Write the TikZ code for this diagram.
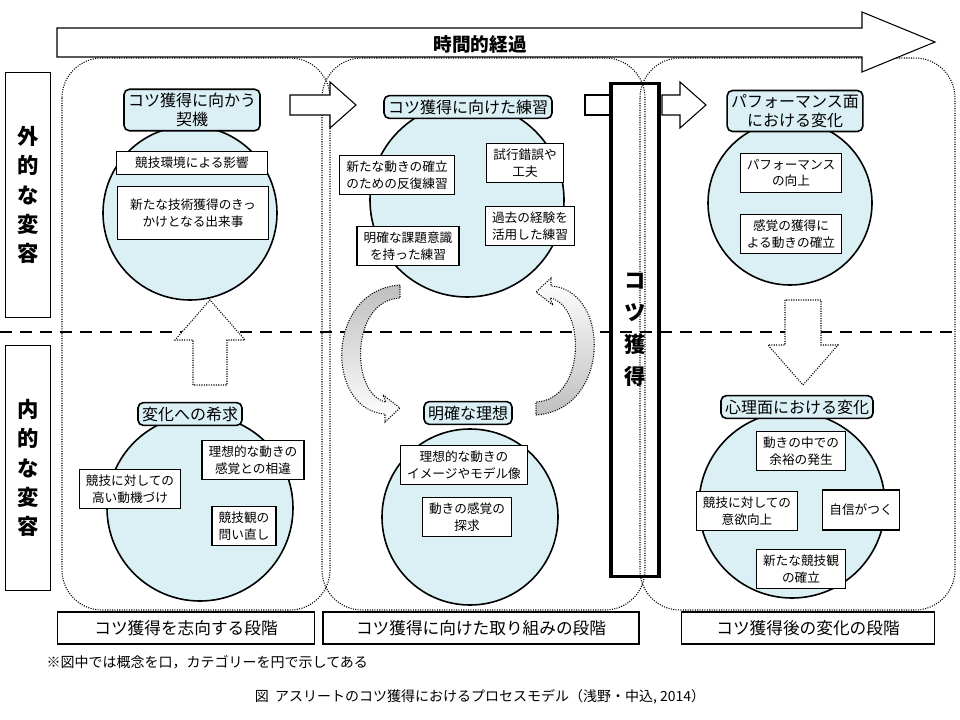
\documentclass[tikz,border=0pt]{standalone}
\usepackage{fontspec}
\setmainfont{Noto Sans CJK JP}
\usetikzlibrary{positioning}
\definecolor{catblue}{rgb}{0.86,0.94,0.96}
\definecolor{arrgray}{rgb}{0.75,0.75,0.75}
\tikzset{
  concept/.style={draw, thick, fill=white, align=center, font=\fontsize{9.5}{12.5}\selectfont, inner xsep=5pt, inner ysep=4pt},
  cat/.style={draw, very thick, fill=catblue, rounded corners=4pt, align=center, font=\fontsize{12}{14}\selectfont, inner sep=3pt},
  stage/.style={draw, thick, minimum height=24pt, font=\fontsize{12.5}{14}\selectfont},
  region/.style={densely dotted, thick, rounded corners=30pt},
  bigcirc/.style={draw, very thick, fill=catblue},
  hollow/.style={draw, densely dotted, thick, fill=white}
}
\begin{document}
\begin{tikzpicture}[x=0.75pt, y=-0.75pt]
\useasboundingbox (0,0) rectangle (960,720);
% regions
\draw[region] (62,58) rectangle (330,610);
\draw[region] (322,58) rectangle (645,610);
\draw[region] (640,58) rectangle (955,610);
% time arrow
\draw[thick, fill=white] (57,28) -- (862,28) -- (862,12) -- (935,42) -- (862,72) -- (862,57) -- (57,57) -- cycle;
\node[font=\fontsize{14}{16}\selectfont\bfseries] (time) at (480,44) {時間的経過};
% side labels
\node[draw, thick, minimum width=34pt, minimum height=184pt, align=center, font=\fontsize{16}{22}\selectfont\bfseries] (outer) at (28,195) {外\\的\\な\\変\\容};
\node[draw, thick, minimum width=34pt, minimum height=184pt, align=center, font=\fontsize{16}{22}\selectfont\bfseries] (inner) at (28,468) {内\\的\\な\\変\\容};
\draw[line width=2pt, dash pattern=on 9pt off 6pt] (0,332) -- (960,332);
% circles
\draw[bigcirc] (190,213) circle (87);
\draw[bigcirc] (467,200) circle (97);
\draw[bigcirc] (790,203) circle (82);
\draw[bigcirc] (200,508) circle (93);
\draw[bigcirc] (470,517) circle (88);
\draw[bigcirc] (792,505) circle (93);
% hollow arrows
\draw[hollow, solid] (290,95) -- (330,95) -- (330,82) -- (356,105) -- (330,128) -- (330,115) -- (290,115) -- cycle;
\draw[hollow, solid] (585,95) -- (610,95) -- (610,115) -- (585,115) -- cycle;
\draw[hollow, solid] (662,95) -- (680,95) -- (680,82) -- (706,105) -- (680,128) -- (680,115) -- (662,115) -- cycle;
\draw[hollow] (193,385) -- (193,340) -- (175,340) -- (210,300) -- (245,340) -- (227,340) -- (227,385) -- cycle;
\draw[hollow] (785,300) -- (785,345) -- (768,345) -- (803,385) -- (838,345) -- (821,345) -- (821,300) -- cycle;
% curved arrows
\draw[densely dotted, thick, top color=arrgray, bottom color=white] (400,285) .. controls (325,290) and (325,410) .. (385,414)
  -- (385,422) -- (400,408) -- (383,395) -- (386,402) .. controls (350,395) and (350,300) .. (400,298) -- cycle;
\draw[densely dotted, thick, bottom color=arrgray, top color=white] (536,415) .. controls (611,410) and (611,290) .. (551,286)
  -- (551,278) -- (536,292) -- (553,305) -- (550,298) .. controls (586,305) and (586,400) .. (536,402) -- cycle;
% acquisition box
\node[draw, line width=2.5pt, minimum width=36pt, minimum height=370pt, align=center, font=\fontsize{16}{24}\selectfont\bfseries] (kotsu) at (635,330) {コ\\ツ\\獲\\得};
% categories
\node[cat] (trig) at (192,110) {コツ獲得に向かう\\契機};
\node[cat] (prac) at (468,107) {コツ獲得に向けた練習};
\node[cat] (perf) at (795,111) {パフォーマンス面\\における変化};
\node[cat] (desire) at (190,414) {変化への希求};
\node[cat] (ideal) at (468,413) {明確な理想};
\node[cat] (psych) at (797,407) {心理面における変化};
% concepts
\node[concept, minimum width=113pt] (c1) at (192,163) {競技環境による影響};
\node[concept, minimum width=113pt, minimum height=40pt] (c2) at (193,213) {新たな技術獲得のきっ\\かけとなる出来事};
\node[concept] (c3) at (397,175) {新たな動きの確立\\のための反復練習};
\node[concept] (c4) at (525,163) {試行錯誤や\\工夫};
\node[concept] (c5) at (408,246) {明確な課題意識\\を持った練習};
\node[concept] (c6) at (530,226) {過去の経験を\\活用した練習};
\node[concept] (c7) at (791,173) {パフォーマンス\\の向上};
\node[concept] (c8) at (791,234) {感覚の獲得に\\よる動きの確立};
\node[concept] (c9) at (130,489) {競技に対しての\\高い動機づけ};
\node[concept] (c10) at (253,460) {理想的な動きの\\感覚との相違};
\node[concept] (c11) at (244,526) {競技観の\\問い直し};
\node[concept] (c12) at (464,465) {理想的な動きの\\イメージやモデル像};
\node[concept] (c13) at (467,517) {動きの感覚の\\探求};
\node[concept] (c14) at (801,451) {動きの中での\\余裕の発生};
\node[concept] (c15) at (747,511) {競技に対しての\\意欲向上};
\node[concept, minimum height=30pt] (c16) at (861,510) {自信がつく};
\node[concept] (c17) at (801,569) {新たな競技観\\の確立};
% stages
\node[stage, minimum width=193pt] (s1) at (186,628) {コツ獲得を志向する段階};
\node[stage, minimum width=237pt] (s2) at (481,628) {コツ獲得に向けた取り組みの段階};
\node[stage, minimum width=190pt] (s3) at (808,628) {コツ獲得後の変化の段階};
\node[anchor=west, font=\fontsize{10.5}{12}\selectfont] (note) at (42,662) {※図中では概念を口，カテゴリーを円で示してある};
\node[font=\fontsize{10.5}{12}\selectfont] (cap) at (480,697) {図\ \ アスリートのコツ獲得におけるプロセスモデル（浅野・中込, 2014）};
\end{tikzpicture}
\end{document}
